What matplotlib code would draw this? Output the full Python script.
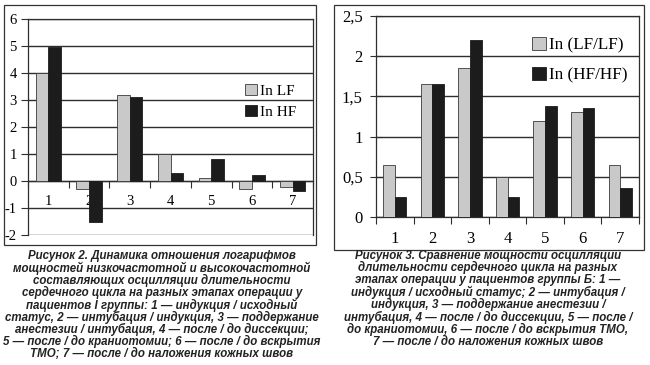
import numpy as np
import matplotlib
matplotlib.use('Agg')
import matplotlib.pyplot as plt
from matplotlib.patches import Rectangle
from matplotlib.ticker import FixedLocator, NullFormatter

# ---- data ----
STAGES = ['1', '2', '3', '4', '5', '6', '7']

LN_LF = [4.0, -0.28, 3.2, 1.0, 0.12, -0.28, -0.21]
LN_HF = [4.95, -1.5, 3.1, 0.3, 0.8, 0.23, -0.37]

LN_LF_RATIO = [0.65, 1.65, 1.85, 0.5, 1.2, 1.3, 0.65]
LN_HF_RATIO = [0.25, 1.65, 2.2, 0.25, 1.38, 1.35, 0.36]

LEFT_YTICKS = [-2, -1, 0, 1, 2, 3, 4, 5, 6]
RIGHT_YTICKS = [0, 0.5, 1, 1.5, 2, 2.5]
RIGHT_YLABELS = ['0', '0,5', '1', '1,5', '2', '2,5']

CAPTION_2 = ["Рисунок 2. Динамика отношения логарифмов",
             "мощностей низкочастотной и высокочастотной",
             "составляющих осцилляции длительности",
             "сердечного цикла на разных этапах операции у",
             "пациентов I группы: 1 — индукция / исходный",
             "статус, 2 — интубация / индукция, 3 — поддержание",
             "анестезии / интубация, 4 — после / до диссекции;",
             "5 — после / до краниотомии; 6 — после / до вскрытия",
             "ТМО; 7 — после / до наложения кожных швов"]
CAPTION_3 = ["Рисунок 3. Сравнение мощности осцилляции",
             "длительности сердечного цикла на разных",
             "этапах операции у пациентов группы Б: 1 —",
             "индукция / исходный статус; 2 — интубация /",
             "индукция, 3 — поддержание анестезии /",
             "интубация, 4 — после / до диссекции, 5 — после /",
             "до краниотомии, 6 — после / до вскрытия ТМО,",
             "7 — после / до наложения кожных швов"]

LIGHT = '#c9c9c9'
DARK = '#1c1c1c'
EDGE = '#3a3a3a'
GRID = '#2e2e2e'

plt.rcParams['font.family'] = ['Liberation Serif', 'DejaVu Serif']

W, H = 650, 365


def px_box(x0, y0, x1, y1):
    """pixel rect (top-left origin) -> figure-fraction [l, b, w, h]"""
    return [x0 / W, 1 - y1 / H, (x1 - x0) / W, (y1 - y0) / H]


def bars(ax, lf, hf, labels, fs):
    x = np.arange(len(STAGES))
    w = 0.31
    ax.bar(x - w / 2, lf, w, color=LIGHT, edgecolor=EDGE, lw=0.6,
           label=labels[0], zorder=3)
    ax.bar(x + w / 2, hf, w, color=DARK, edgecolor=DARK, lw=0.6,
           label=labels[1], zorder=3)
    ax.set_xlim(-0.5, len(STAGES) - 0.5)
    ax.xaxis.set_major_locator(FixedLocator(np.arange(len(STAGES) + 1) - 0.5))
    ax.xaxis.set_major_formatter(NullFormatter())
    ax.xaxis.set_minor_locator(FixedLocator(x))
    ax.set_xticklabels(STAGES, minor=True, fontsize=fs)
    ax.tick_params(axis='x', which='major', direction='out', length=5,
                   width=0.8, color=GRID)
    ax.tick_params(axis='x', which='minor', length=0, pad=10)
    ax.tick_params(axis='y', labelsize=fs, width=0.8, color=GRID)
    ax.grid(axis='y', color=GRID, lw=1.0, zorder=0)
    for s in ax.spines.values():
        s.set_color(GRID)
        s.set_linewidth(0.9)


def caption(fig, lines, xc, y0, step):
    # one text per line so the line pitch is exact
    for i, line in enumerate(lines):
        fig.text(xc / W, 1 - (y0 + i * step) / H, line, ha='center',
                 va='center', family='Liberation Sans', weight='bold',
                 style='italic', fontsize=8.3, color='#222222')


fig = plt.figure(figsize=(6.5, 3.65), dpi=100, facecolor='white')

# outer frames
fig.patches.append(Rectangle((4 / W, 1 - 245 / H), 312 / W, 240 / H,
                             transform=fig.transFigure, fill=False,
                             ec='#333333', lw=0.9))
fig.patches.append(Rectangle((334 / W, 1 - 250 / H), 310 / W, 245 / H,
                             transform=fig.transFigure, fill=False,
                             ec='#333333', lw=0.9))

# ---- Figure 2 (left) ----
ax1 = fig.add_axes(px_box(28, 19, 313, 235))
ax1.spines['bottom'].set_position(('data', 0))
bars(ax1, LN_LF, LN_HF, ['In LF', 'In HF'], 10.5)
ax1.set_ylim(-2, 6)
ax1.set_yticks(LEFT_YTICKS)
ax1.set_yticklabels([str(v) for v in LEFT_YTICKS])
ax1.tick_params(axis='y', direction='out', length=5, pad=3)
ax1.legend(frameon=False, handlelength=0.8, handleheight=0.8,
           handletextpad=0.2, labelspacing=0.45, prop={'size': 11},
           loc='upper left', bbox_to_anchor=(0.712, 0.765))

# ---- Figure 3 (right) ----
ax2 = fig.add_axes(px_box(376, 16, 639, 217))
bars(ax2, LN_LF_RATIO, LN_HF_RATIO, ['In (LF/LF)', 'In (HF/HF)'], 12)
ax2.set_ylim(0, 2.5)
ax2.set_yticks(RIGHT_YTICKS)
ax2.set_yticklabels(RIGHT_YLABELS)
ax2.tick_params(axis='y', direction='inout', length=9, pad=5)
ax2.legend(frameon=False, handlelength=0.8, handleheight=0.8,
           handletextpad=0.2, labelspacing=0.75, prop={'size': 12.3},
           loc='upper left', bbox_to_anchor=(0.536, 0.97))

# captions
caption(fig, CAPTION_2, 162, 255.5, 12.35)
caption(fig, CAPTION_3, 488, 255.5, 12.3)

fig.savefig('out.png', dpi=100, facecolor='white')
